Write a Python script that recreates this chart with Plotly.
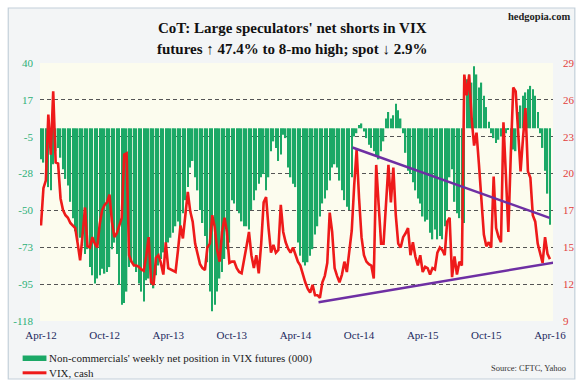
import numpy as np
import pandas as pd
import plotly.graph_objects as go

# ---------------- data ----------------
weeks = pd.date_range("2012-04-10", periods=209, freq="7D")

net_position = [
    -19, -21, -24, -36, -38, -22, -14, -12, -18, -25, -31, -35, -45, -55, -63, -69, -67, -72,
    -77, -74, -85, -90, -95, -92, -90, -86, -89, -88, -85, -74, -70, -77, -96, -108, -107, -100,
    -85, -82, -84, -88, -95, -100, -106, -93, -92, -96, -98, -90, -84, -80, -76, -73, -70, -67,
    -64, -60, -57, -62, -52, -44, -36, -24, -20, -30, -38, -50, -58, -66, -82, -100, -112,
    -108, -100, -92, -88, -80, -74, -70, -44, -46, -50, -52, -57, -60, -60, -62, -50, -44,
    -38, -34, -30, -28, -38, -30, -14, -8, -12, -20, -16, -4, -6, -24, -30, -34, -36,
    -70, -78, -82, -84, -82, -78, -74, -65, -60, -54, -46, -43, -38, -32, -24, -22, -24,
    -32, -38, -44, -48, -50, -30, -5, -3, 2, 3, -2, -6, -10, -12, -14, -17, -19,
    -14, -8, 6, 10, 6, 8, 15, 11, 6, -3, -15, -26, -28, -33, -38, -43, -46, -54, -57, -56,
    -64, -68, -62, -68, -66, -68, -60, -50, -30, -25, -45, -52, -55, -56, -58,
    30, 33, 28, 38, 33, 25, 28, 20, 13, 4, -3, -6, -9, -7, -5, -8, -3, -1, -8, -13, -14,
    10, 14, 20, 22, 24, 26, 24, 20, 10, -3, -12, -26, -40, -59,
]

vix_cash = [
    16.4, 19.3, 19.9, 25.0, 21.9, 26.8, 21.3, 21.2, 18.5, 17.6, 17.2, 17.0, 16.6, 16.4, 16.2,
    15.0, 13.7, 15.7, 17.8, 14.8, 14.7, 15.5, 15.0, 14.7, 16.5, 17.6, 18.0, 18.2, 18.8, 16.7,
    15.5, 15.8, 16.4, 17.0, 21.9, 22.0,
    14.1, 13.6, 13.3, 13.3, 13.2, 13.0, 12.9, 14.0, 15.5, 12.0, 11.8, 13.9, 14.1, 13.5, 12.6,
    15.1, 13.1, 13.0, 12.9, 12.8, 14.5, 16.4, 15.4, 17.0, 19.0, 17.5, 16.7, 15.0, 14.1, 13.4,
    13.1, 12.95, 14.7, 15.0, 17.2,
    16.3, 14.5, 13.6, 15.9, 17.0, 15.9, 13.5, 13.6, 13.6, 13.1, 12.8, 12.7, 13.9, 14.8, 15.9,
    14.1, 13.1, 14.1, 12.7, 15.0, 18.2, 18.6, 16.2, 14.3, 14.9, 14.3, 14.5, 18.0, 15.9, 15.1,
    14.6, 14.3, 14.7, 14.1,
    13.6, 13.3, 12.6, 12.0, 11.5, 11.2, 11.8, 11.0, 11.0, 10.8, 12.0, 12.5, 13.5, 17.4, 15.9,
    13.1, 12.5, 12.0, 12.6, 13.6, 12.8, 14.5, 16.0, 19.5, 22.3, 18.5, 15.5, 14.1, 13.6, 13.4,
    13.3, 12.3, 21.1, 18.0,
    15.0, 15.0, 18.2, 21.1, 18.2, 20.9, 17.2, 15.0, 14.7, 15.5, 15.8, 16.2, 14.1, 15.1, 14.0,
    13.3, 14.1, 12.8, 13.2, 13.1, 12.6, 13.1, 13.0, 14.3, 14.7, 14.5, 14.1, 16.7, 17.0, 12.4,
    14.0, 12.6, 13.6, 13.3, 28.1,
    26.5, 28.1, 24.7, 22.6, 23.6, 21.1, 18.2, 15.7, 14.8, 15.1, 14.7, 20.2, 16.2, 15.5, 15.1,
    24.4, 20.3, 15.9, 21.9, 27.1, 26.8, 23.2, 20.6, 23.2, 25.5, 20.6, 20.1, 17.2, 16.7, 15.0,
    14.3, 13.5, 15.5, 14.2, 13.8,
]

# trend lines drawn on the VIX chart
resistance_dates = ["2014-09-18", "2016-04-04"]
resistance_vix = [22.45, 17.0]
support_dates = ["2014-06-13", "2016-04-25"]
support_vix = [10.45, 13.57]

left_tick_text = ["-118", "-95", "-73", "-50", "-28", "-5", "17", "40"]
right_tick_text = ["9", "12", "15", "17", "20", "23", "26", "29"]
x_tick_text = ["Apr-12", "Oct-12", "Apr-13", "Oct-13", "Apr-14",
               "Oct-14", "Apr-15", "Oct-15", "Apr-16"]

# ---------------- styling ----------------
SERIF = "Liberation Serif, Times New Roman, serif"
W, H = 587, 382
L, R, T, B = 40, 30, 63, 61
PW, PH = W - L - R, H - T - B


def px(xp):
    return (xp - L) / PW


def py(yp):
    return (H - B - yp) / PH


fig = go.Figure()

fig.add_trace(go.Bar(
    x=weeks, y=net_position, name="Non-commercials' weekly net position in VIX futures (000)",
    marker=dict(color="#1ba866", line=dict(width=0)), yaxis="y", showlegend=False,
))
fig.add_trace(go.Scatter(
    x=weeks, y=vix_cash, name="VIX, cash", mode="lines",
    line=dict(color="#ee1a1a", width=2.6), yaxis="y2", showlegend=False,
))
fig.add_trace(go.Scatter(
    x=resistance_dates, y=resistance_vix, mode="lines", line=dict(color="#6e2fa3", width=2.4),
    yaxis="y2", showlegend=False, hoverinfo="skip",
))
fig.add_trace(go.Scatter(
    x=support_dates, y=support_vix, mode="lines", line=dict(color="#6e2fa3", width=2.4),
    yaxis="y2", showlegend=False, hoverinfo="skip",
))

x_range = [weeks[0] - pd.Timedelta(days=0.4 * 7), weeks[0] + pd.Timedelta(days=209.25 * 7)]

fig.update_layout(
    width=W, height=H,
    margin=dict(l=L, r=R, t=T, b=B, pad=0),
    paper_bgcolor="white", plot_bgcolor="rgba(0,0,0,0)",
    bargap=0.42,
    font=dict(family=SERIF, size=11, color="#222"),
    xaxis=dict(
        type="date", range=x_range, tickmode="array",
        tickvals=list(weeks[::26]), ticktext=x_tick_text,
        tickfont=dict(family=SERIF, size=11, color="#1d2a5e"),
        showgrid=False, zeroline=False, showline=False, ticks="",
        ticklabelstandoff=6,
    ),
    yaxis=dict(
        range=[-118, 40], tickmode="array",
        tickvals=list(np.linspace(-118, 40, 8)), ticktext=left_tick_text,
        tickfont=dict(family=SERIF, size=11, color="#2cb077"),
        showgrid=True, gridcolor="#555555", gridwidth=1, griddash="4px,3px",
        zeroline=False, showline=False, ticks="", ticklabelstandoff=6,
    ),
    yaxis2=dict(
        range=[9, 29], overlaying="y", side="right", tickmode="array",
        tickvals=list(np.linspace(9, 29, 8)), ticktext=right_tick_text,
        tickfont=dict(family=SERIF, size=11, color="#e2403a"),
        showgrid=False, zeroline=False, showline=False, ticks="", ticklabelstandoff=9,
    ),
    shapes=[
        dict(type="rect", xref="paper", yref="paper", layer="below",
             x0=px(8), x1=px(579), y0=py(379), y1=py(8),
             fillcolor="#f3f5f6", line=dict(color="#c3d0da", width=1.2)),
        dict(type="rect", xref="paper", yref="paper", layer="below",
             x0=0, x1=1, y0=0, y1=1, fillcolor="#fcfcee", line=dict(width=0)),
        # legend swatches
        dict(type="rect", xref="paper", yref="paper",
             x0=px(22.5), x1=px(46.5), y0=py(361), y1=py(355.5),
             fillcolor="#1ba866", line=dict(width=0)),
        dict(type="line", xref="paper", yref="paper",
             x0=px(22.5), x1=px(46.5), y0=py(372.8), y1=py(372.8),
             line=dict(color="#ee1a1a", width=3)),
    ],
    annotations=[
        dict(text="<b>CoT: Large speculators' net shorts in VIX</b>", xref="paper", yref="paper",
             x=px(294), y=py(28), xanchor="center", yanchor="middle", showarrow=False,
             font=dict(family=SERIF, size=15, color="#111")),
        dict(text="<b>futures ↑ 47.4% to 8-mo high; spot ↓ 2.9%</b>", xref="paper", yref="paper",
             x=px(294), y=py(49), xanchor="center", yanchor="middle", showarrow=False,
             font=dict(family=SERIF, size=15, color="#111")),
        dict(text="<b>hedgopia.com</b>", xref="paper", yref="paper",
             x=px(576), y=py(17), xanchor="right", yanchor="middle", showarrow=False,
             font=dict(family=SERIF, size=10.5, color="#222")),
        dict(text="Non-commercials' weekly net position in VIX futures (000)", xref="paper",
             yref="paper", x=px(47), y=py(358.5), xanchor="left", yanchor="middle",
             showarrow=False, font=dict(family=SERIF, size=11, color="#222")),
        dict(text="VIX, cash", xref="paper", yref="paper", x=px(47), y=py(372.6),
             xanchor="left", yanchor="middle", showarrow=False,
             font=dict(family=SERIF, size=11, color="#222")),
        dict(text="Source: CFTC, Yahoo", xref="paper", yref="paper", x=px(572), y=py(368),
             xanchor="right", yanchor="middle", showarrow=False,
             font=dict(family=SERIF, size=8.5, color="#333")),
    ],
)

fig.write_html(
    "out.html",
    config={"displayModeBar": False},
    post_script="document.body.style.margin='0';document.body.style.overflow='hidden';",
)
